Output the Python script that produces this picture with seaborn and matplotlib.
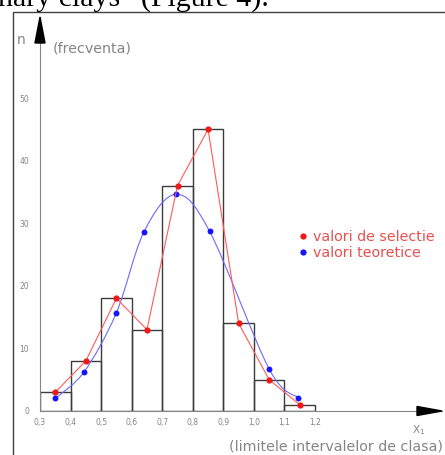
import numpy as np
import matplotlib
matplotlib.use("Agg")
import matplotlib.pyplot as plt
import matplotlib.patches as mpatches
from matplotlib.lines import Line2D
from matplotlib.path import Path
import seaborn as sns

# --- data ---
BIN_EDGES = [0.3, 0.4, 0.5, 0.6, 0.7, 0.8, 0.9, 1.0, 1.1, 1.2]
CLASS_CENTERS = [0.35, 0.45, 0.55, 0.65, 0.75, 0.85, 0.95, 1.05, 1.15]
SAMPLE_FREQ = [3, 8, 18, 13, 36, 45, 14, 5, 1]          # valori de selectie
THEO_X = [0.35, 0.445, 0.55, 0.64, 0.745, 0.855, 1.05, 1.145]
THEO_FREQ = [2.0, 6.3, 15.7, 28.6, 34.6, 28.7, 6.7, 2.1]  # valori teoretice
Y_TICKS = [0, 10, 20, 30, 40, 50]
X_TICKS = [0.3, 0.4, 0.5, 0.6, 0.7, 0.8, 0.9, 1.0, 1.1, 1.2]
X_TICK_LABELS = ["0,3", "0,4", "0,5", "0,6", "0,7", "0,8", "0,9", "1,0", "1,1", "1,2"]
LEGEND_LABELS = ["valori de selectie", "valori teoretice"]

W, H = 445, 455
GRAY = "#858585"
RED_LINE = "#ff5a5a"
RED_DOT = "#f01818"
BLUE_LINE = "#6a6aff"
BLUE_DOT = "#1414ff"


def px(x, y):
    """pixel position (from top-left) -> figure fraction"""
    return x / W, 1 - y / H


def smooth_path(xs, ys):
    """Catmull-Rom curve through the points, as a cubic bezier path."""
    pts = np.column_stack([xs, ys]).astype(float)
    ext = np.vstack([pts[0], pts, pts[-1]])
    verts = [pts[0]]
    codes = [Path.MOVETO]
    for i in range(1, len(ext) - 2):
        p0, p1, p2, p3 = ext[i - 1], ext[i], ext[i + 1], ext[i + 2]
        verts += [p1 + (p2 - p0) / 6, p2 - (p3 - p1) / 6, p2]
        codes += [Path.CURVE4] * 3
    return Path(verts, codes)


sns.set_style("white")
plt.rcParams["font.family"] = ["DejaVu Sans"]

fig = plt.figure(figsize=(W / 100, H / 100), dpi=100)

# axes: x-axis at y=411px, from x=40px to arrow tip at 442px, y-axis up to 17px
x0, x1, y0, y1 = 40, 442, 411, 17
ax = fig.add_axes([x0 / W, 1 - y0 / H, (x1 - x0) / W, (y0 - y1) / H])
ax.set_xlim(0.3, 0.3 + (x1 - x0) / 305.6)
ax.set_ylim(0, (y0 - y1) / 6.26)

# histogram of class frequencies
sns.histplot(x=CLASS_CENTERS, weights=SAMPLE_FREQ, bins=BIN_EDGES, fill=False,
             color="#3c3c3c", linewidth=1.0, ax=ax, zorder=2)

# theoretical curve + points
ax.add_patch(mpatches.PathPatch(smooth_path(THEO_X, THEO_FREQ), fill=False,
                                edgecolor=BLUE_LINE, linewidth=0.8, zorder=3))
sns.scatterplot(x=THEO_X, y=THEO_FREQ, color=BLUE_DOT, s=18, linewidth=0,
                ax=ax, zorder=4)

# sample values polyline
sns.lineplot(x=CLASS_CENTERS, y=SAMPLE_FREQ, color=RED_LINE, linewidth=0.8,
             marker="o", markersize=4.5, markerfacecolor=RED_DOT,
             markeredgewidth=0, sort=False, ax=ax, zorder=5)

ax.set_xlabel("")
ax.set_ylabel("")
for side in ["top", "right"]:
    ax.spines[side].set_visible(False)
for side in ["left", "bottom"]:
    ax.spines[side].set_color(GRAY)
    ax.spines[side].set_linewidth(0.8)

ax.set_yticks(Y_TICKS)
ax.set_xticks(X_TICKS)
ax.set_xticklabels(X_TICK_LABELS)
ax.tick_params(axis="y", length=5, width=0.8, color=GRAY, pad=3,
               labelsize=5.5, labelcolor=GRAY)
ax.tick_params(axis="x", length=0, pad=5, labelsize=5.5, labelcolor=GRAY)

# arrow heads on both axes
ax.fill([-0.0125, 0.0125, 0], [0.934, 0.934, 1.0], color="black",
        transform=ax.transAxes, clip_on=False, zorder=6)
ax.fill([0.9378, 0.9378, 1.0], [-0.0115, 0.0115, 0], color="black",
        transform=ax.transAxes, clip_on=False, zorder=6)

# legend
handles = [Line2D([], [], linestyle="none", marker="o", markersize=4.5,
                  markerfacecolor=c, markeredgewidth=0) for c in (RED_DOT, BLUE_DOT)]
ax.legend(handles, LEGEND_LABELS, loc="center left",
          bbox_to_anchor=px(299, 245), bbox_transform=fig.transFigure,
          frameon=False, fontsize=10.3, labelcolor="#e85050", handlelength=0.55,
          handletextpad=0.45, labelspacing=0.1, borderpad=0, borderaxespad=0)

# axis annotations
fig.text(*px(21, 40), "n", fontsize=10, color=GRAY, ha="center", va="center")
fig.text(*px(53, 48), "(frecventa)", fontsize=10.3, color=GRAY, ha="left", va="center")
fig.text(*px(419, 430), r"$\mathregular{X_1}$", fontsize=7.5, color=GRAY,
         ha="center", va="center")
fig.text(*px(229, 447), "(limitele intervalelor de clasa)", fontsize=10.3,
         color=GRAY, ha="left", va="center")

# page remnants: frame and clipped caption line above it
fig.add_artist(mpatches.Rectangle(px(13, 470), 1.2, (470 - 12) / H, fill=False,
                                  edgecolor="#404040", linewidth=1.0,
                                  transform=fig.transFigure))
fig.text(*px(-2, 6), "nary clays\u201d (Figure 4).", fontsize=21.5, color="black",
         family="Liberation Serif", ha="left", va="baseline")

fig.savefig("out.png", dpi=100)
